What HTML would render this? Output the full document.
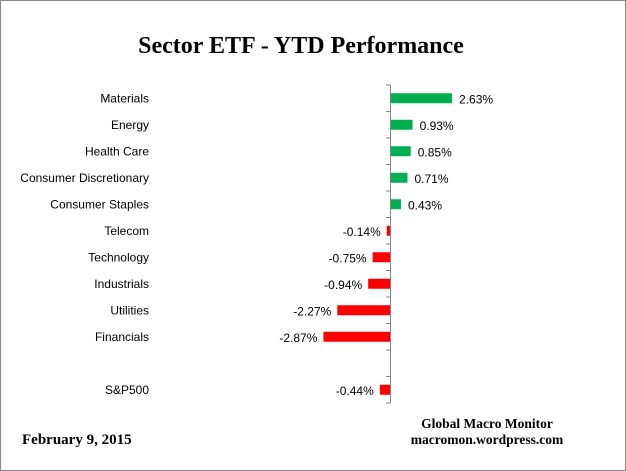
<!DOCTYPE html>
<html><head><style>
body{margin:0;background:#fff}
svg{display:block}
text{font-family:"Liberation Sans",sans-serif;font-size:12px;fill:#000}
</style></head><body>
<svg width="626" height="471" viewBox="0 0 626 471">
<rect x="0.5" y="0.5" width="625" height="470" fill="#fff" stroke="#868686"/>
<text x="301" y="53" text-anchor="middle" style="font-family:'Liberation Serif',serif;font-weight:bold;font-size:24px">Sector ETF - YTD  Performance</text>
<g id="c"></g>
<line x1="390.5" y1="85" x2="390.5" y2="403" stroke="#868686"/>
<text x="487" y="428" text-anchor="middle" style="font-family:'Liberation Serif',serif;font-weight:bold;font-size:13.5px">Global Macro Monitor</text>
<text x="487" y="444" text-anchor="middle" style="font-family:'Liberation Serif',serif;font-weight:bold;font-size:13.5px">macromon.wordpress.com</text>
<text x="22" y="444" style="font-family:'Liberation Serif',serif;font-weight:bold;font-size:15px">February 9,  2015</text>
</svg>
<script>
var d=[["Materials",2.63],["Energy",0.93],["Health Care",0.85],["Consumer Discretionary",0.71],["Consumer Staples",0.43],["Telecom",-0.14],["Technology",-0.75],["Industrials",-0.94],["Utilities",-2.27],["Financials",-2.87],null,["S&P500",-0.44]];
var g=document.getElementById("c"),s="",sc=23.2;
for(var k=0;k<=12;k++){var y=85+k*26.5;s+='<line x1="386" x2="390" y1="'+y+'" y2="'+y+'" stroke="#868686"/>';}
d.forEach(function(r,k){if(!r)return;var cy=85+26.5*(k+0.5);var v=r[1],w=Math.abs(v)*sc;
var x=v>0?391:390-w;
s+='<rect x="'+x+'" y="'+(cy-5)+'" width="'+w+'" height="10" fill="'+(v>0?'#00b050':'#ff0000')+'"/>';
s+='<text x="149" y="'+(cy+4)+'" text-anchor="end">'+r[0].replace("&","&amp;")+'</text>';
if(v>0)s+='<text x="'+(391+w+7)+'" y="'+(cy+5)+'">'+v.toFixed(2)+'%</text>';
else s+='<text x="'+(390-w-6)+'" y="'+(cy+5)+'" text-anchor="end">'+v.toFixed(2)+'%</text>';});
g.innerHTML=s;
</script>
</body></html>
